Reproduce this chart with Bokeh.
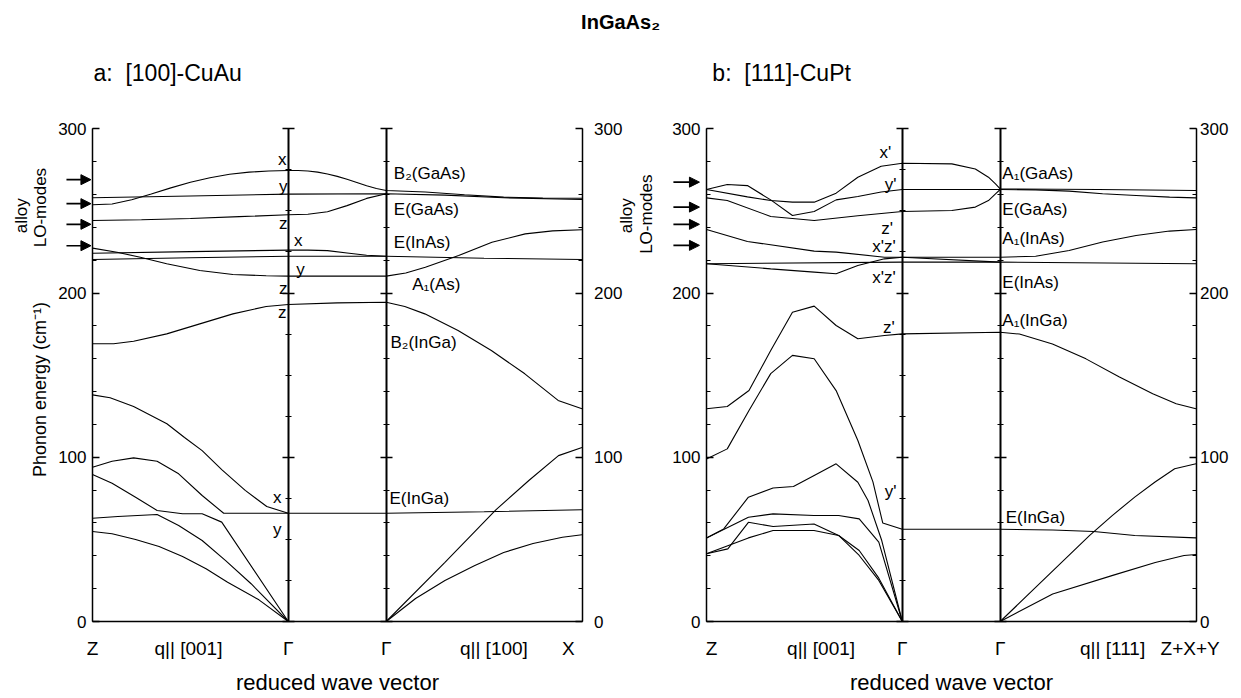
import math
from bokeh.plotting import figure
from bokeh.models import Range1d, LinearAxis, FixedTicker, Label, Arrow, NormalHead
from bokeh.embed import file_html
from bokeh.resources import INLINE

# ---------------- data: panel a  [100]-CuAu ----------------
# q: 0 = Z, 1 = Gamma (q||[001]), 1..1.5 = direction change at Gamma, 1.5 = Gamma, 2.5 = X
A_TOP_Q = [0, 0.1, 0.2, 0.3, 0.4, 0.5, 0.6, 0.7, 0.8, 0.9, 1.0, 1.05, 1.1, 1.15, 1.2, 1.25, 1.3, 1.35, 1.4, 1.45, 1.5, 1.7, 1.9, 2.1, 2.3, 2.5]
A_TOP_E = [253.7, 254.2, 256.8, 260.3, 264.0, 267.4, 270.2, 272.3, 273.6, 274.3, 274.6, 274.6, 274.3, 273.6, 272.5, 271.0, 269.2, 267.3, 265.3, 263.6, 262.4, 261.5, 259.8, 258.4, 257.8, 257.7]
A_EGAAS_Q = [0, 0.5, 1.0, 1.5, 1.8, 2.1, 2.5]
A_EGAAS_E = [258.0, 259.1, 260.2, 260.4, 259.6, 258.0, 256.9]
A_EGAASZ_Q = [0, 0.25, 0.5, 0.75, 1.0, 1.1, 1.2, 1.3, 1.4, 1.5]
A_EGAASZ_E = [244.1, 244.6, 245.4, 246.5, 247.6, 247.9, 249.5, 253.2, 257.6, 260.4]
A_A1AS_Q = [0, 0.125, 0.244, 0.379, 0.548, 0.717, 0.887, 1.0, 1.5, 1.6, 1.7, 1.87, 2.04, 2.21, 2.35, 2.5]
A_A1AS_E = [227.3, 224.8, 221.8, 217.8, 213.7, 211.3, 210.5, 210.3, 210.3, 212.2, 215.7, 222.8, 230.9, 236.0, 237.8, 238.5]
A_EINASX_Q = [0, 0.5, 1.0, 1.1, 1.2, 1.3, 1.4, 1.5]
A_EINASX_E = [224.2, 225.2, 226.1, 226.1, 225.8, 224.4, 223.0, 222.4]
A_EINAS_Q = [0, 0.5, 1.0, 1.5, 2.0, 2.5]
A_EINAS_E = [220.4, 221.5, 222.4, 222.4, 221.2, 220.4]
A_B2INGA_Q = [0, 0.108, 0.21, 0.379, 0.548, 0.717, 0.887, 1.0, 1.25, 1.5, 1.595, 1.697, 1.867, 2.037, 2.208, 2.378, 2.5]
A_B2INGA_E = [169.1, 169.1, 170.6, 175.1, 181.2, 187.3, 191.8, 193.0, 194.0, 194.4, 191.8, 187.3, 177.2, 165.0, 150.8, 134.6, 129.5]
A_OPT_Q = [0, 0.09, 0.21, 0.38, 0.47, 0.56, 0.66, 0.78, 0.89, 1.0]
A_OPT_E = [138.0, 136.2, 130.9, 120.4, 112.0, 104.0, 92.5, 79.8, 70.0, 65.9]
A_EINGA_Q = [0, 0.10, 0.21, 0.33, 0.44, 0.56, 0.67, 1.0, 1.5, 2.0, 2.5]
A_EINGA_E = [93.9, 97.6, 99.6, 97.6, 89.9, 76.7, 65.9, 65.9, 65.9, 66.8, 68.0]
A_AC1_Q = [0, 0.10, 0.22, 0.33, 0.46, 0.56, 0.66, 1.0]
A_AC1_E = [89.5, 84.2, 75.7, 67.6, 65.6, 65.6, 60.5, 0]
A_AC2_Q = [0, 0.13, 0.33, 0.44, 0.56, 0.68, 0.81, 1.0]
A_AC2_E = [62.9, 63.9, 65.1, 58.4, 49.3, 37.1, 23.0, 0]
A_AC3_Q = [0, 0.10, 0.22, 0.34, 0.46, 0.58, 0.69, 0.85, 1.0]
A_AC3_E = [54.8, 53.4, 49.9, 45.7, 39.6, 32.1, 23.9, 13.2, 0]
A_LA_Q = [1.5, 1.8, 2.06, 2.23, 2.38, 2.5]
A_LA_E = [0, 36, 68, 86, 101, 106]
A_TA_Q = [1.5, 1.65, 1.8, 1.95, 2.1, 2.25, 2.4, 2.5]
A_TA_E = [0, 14, 25, 34, 42, 47.5, 51.3, 52.8]
A_ARROW_E = [269.0, 254.4, 241.8, 228.8]

# ---------------- data: panel b  [111]-CuPt ----------------
B_X_Q = [0, 0.209, 0.328, 0.439, 0.55, 0.662, 0.773, 0.892, 1.0, 1.253, 1.373, 1.44, 1.476, 1.5, 2.0, 2.5]
B_X_E = [263.0, 258.5, 256.3, 255.3, 255.3, 260.8, 270.5, 277.2, 279.0, 278.6, 275.5, 270.5, 266.4, 263.4, 263.0, 262.4]
B_Y_Q = [0, 0.106, 0.209, 0.328, 0.439, 0.55, 0.662, 0.773, 0.892, 1.0, 1.5, 1.681, 1.852, 2.023, 2.194, 2.365, 2.5]
B_Y_E = [263.0, 266.1, 265.4, 256.7, 247.2, 249.6, 256.7, 258.8, 261.5, 263.0, 263.0, 262.8, 262.0, 260.4, 259.4, 258.4, 257.9]
B_Z_Q = [0, 0.106, 0.328, 0.55, 0.773, 1.0, 1.253, 1.373, 1.44, 1.476, 1.5]
B_Z_E = [257.9, 256.3, 246.6, 244.1, 247.0, 249.6, 250.2, 252.3, 256.3, 260.4, 263.0]
B_XZ1_Q = [0, 0.209, 0.55, 0.662, 0.909, 1.0, 1.5, 1.681, 1.852, 2.023, 2.194, 2.365, 2.5]
B_XZ1_E = [238.7, 231.4, 225.5, 224.9, 221.8, 221.8, 221.8, 222.4, 225.9, 231.0, 235.0, 237.7, 238.7]
B_EINAS_Q = [0, 1.0, 1.5, 2.5]
B_EINAS_E = [217.8, 218.8, 218.8, 217.8]
B_XZ2_Q = [0, 0.328, 0.55, 0.662, 0.773, 0.909, 1.0, 1.5]
B_XZ2_E = [217.8, 214.7, 212.7, 211.7, 216.7, 220.8, 221.8, 218.8]
B_A1INGA_Q = [0, 0.106, 0.217, 0.328, 0.439, 0.55, 0.662, 0.773, 0.909, 1.0, 1.5, 1.598, 1.767, 1.938, 2.109, 2.279, 2.399, 2.5]
B_A1INGA_E = [129.5, 130.9, 140.6, 165.0, 188.3, 192.0, 180.2, 172.1, 174.1, 175.1, 176.1, 175.0, 169.0, 159.9, 148.8, 138.7, 132.6, 129.5]
B_EINGA_Q = [0, 0.106, 0.217, 0.328, 0.439, 0.55, 0.662, 0.773, 0.85, 0.9, 1.0, 1.5, 1.768, 1.978, 2.187, 2.5]
B_EINGA_E = [99.0, 105.1, 128.5, 150.9, 162.0, 160.0, 140.6, 110.2, 85.0, 60.0, 56.2, 56.2, 55.7, 54.8, 52.4, 50.9]
B_AC1_Q = [0, 0.088, 0.214, 0.34, 0.444, 0.55, 0.662, 0.773, 0.825, 0.895, 1.0]
B_AC1_E = [50.9, 56.4, 75.7, 81.3, 82.2, 88.9, 96.0, 84.8, 73.7, 49.3, 0]
B_AC2_Q = [0, 0.214, 0.34, 0.549, 0.675, 0.78, 0.88, 1.0]
B_AC2_E = [50.9, 63.5, 65.5, 64.5, 64.5, 62.5, 48.3, 0]
B_AC3_Q = [0, 0.109, 0.214, 0.34, 0.549, 0.675, 0.78, 0.88, 1.0]
B_AC3_E = [41.2, 44.2, 60.4, 57.8, 59.4, 52.4, 43.2, 26.4, 0]
B_AC4_Q = [0, 0.214, 0.34, 0.549, 0.675, 0.78, 0.88, 1.0]
B_AC4_E = [41.2, 50.9, 55.4, 55.4, 52.4, 40.2, 25.0, 0]
B_LA_Q = [1.5, 1.957, 2.072, 2.187, 2.289, 2.391, 2.5]
B_LA_E = [0, 52.4, 64.5, 75.7, 84.8, 93.0, 96.0]
B_TA_Q = [1.5, 1.768, 2.083, 2.292, 2.439, 2.5]
B_TA_E = [0, 16.8, 28.4, 35.9, 40.2, 40.8]
B_ARROW_E = [267.5, 252.3, 241.8, 229.0]

# ---------------- texts ----------------
NB = "\u00a0"
TITLE = "InGaAs\u2082"
SUB_A = "a:" + NB + NB + "[100]-CuAu"
SUB_B = "b:" + NB + NB + "[111]-CuPt"
XLABELS_A = ["Z", "q||" + NB + "[001]", "\u0393", "\u0393", "q||" + NB + "[100]", "X"]
XLABELS_B = ["Z", "q||" + NB + "[001]", "\u0393", "\u0393", "q||" + NB + "[111]", "Z+X+Y"]
YTICKS = [0, 100, 200, 300]
LABELS_A_GAMMA = ["x", "y", "z", "x", "y", "z", "z", "x", "y"]
LABELS_A_MODES = ["B\u2082(GaAs)", "E(GaAs)", "E(InAs)", "A\u2081(As)", "B\u2082(InGa)", "E(InGa)"]
LABELS_B_GAMMA = ["x'", "y'", "z'", "x'z'", "x'z'", "z'", "y'"]
LABELS_B_MODES = ["A\u2081(GaAs)", "E(GaAs)", "A\u2081(InAs)", "E(InAs)", "A\u2081(InGa)", "E(InGa)"]

# ---------------- layout ----------------
W, H = 1241, 698
PX_X = 195.8           # px per q unit
PX_Y = 1.6425          # px per cm^-1
ZLEFT = 92             # canvas px of panel a left axis
ZERO_Y = 621           # canvas px (from top) of E = 0
OFF_B = (706 - 92) / PX_X
x0 = -ZLEFT / PX_X
y1 = ZERO_Y / PX_Y
FONT = "Liberation Sans"

p = figure(width=W, height=H, x_range=Range1d(x0, x0 + W / PX_X),
           y_range=Range1d(y1 - H / PX_Y, y1), output_backend="svg",
           toolbar_location=None, x_axis_location=None, y_axis_location=None,
           min_border=0, outline_line_color=None)
p.title.visible = False
p.xgrid.visible = False
p.ygrid.visible = False
p.grid.grid_line_color = None

A_BANDS = [(A_TOP_Q, A_TOP_E), (A_EGAAS_Q, A_EGAAS_E), (A_EGAASZ_Q, A_EGAASZ_E),
           (A_A1AS_Q, A_A1AS_E), (A_EINASX_Q, A_EINASX_E), (A_EINAS_Q, A_EINAS_E),
           (A_B2INGA_Q, A_B2INGA_E), (A_OPT_Q, A_OPT_E), (A_EINGA_Q, A_EINGA_E),
           (A_AC1_Q, A_AC1_E), (A_AC2_Q, A_AC2_E), (A_AC3_Q, A_AC3_E),
           (A_LA_Q, A_LA_E), (A_TA_Q, A_TA_E)]
B_BANDS = [(B_X_Q, B_X_E), (B_Y_Q, B_Y_E), (B_Z_Q, B_Z_E), (B_XZ1_Q, B_XZ1_E),
           (B_EINAS_Q, B_EINAS_E), (B_XZ2_Q, B_XZ2_E), (B_A1INGA_Q, B_A1INGA_E),
           (B_EINGA_Q, B_EINGA_E), (B_AC1_Q, B_AC1_E), (B_AC2_Q, B_AC2_E),
           (B_AC3_Q, B_AC3_E), (B_AC4_Q, B_AC4_E), (B_LA_Q, B_LA_E), (B_TA_Q, B_TA_E)]

for off, bands in ((0.0, A_BANDS), (OFF_B, B_BANDS)):
    for q, e in bands:
        p.line([off + v for v in q], e, line_color="black", line_width=1.1)


def y_axis(loc, side, minor_step, standoff, labels=True, width=1.5, both=False):
    ax = LinearAxis(fixed_location=loc, bounds=(0, 300),
                    ticker=FixedTicker(ticks=YTICKS, minor_ticks=list(range(0, 301, minor_step))),
                    axis_line_width=width, major_tick_line_width=1.3, minor_tick_line_width=1.1,
                    major_tick_in=7 if not both else 6, major_tick_out=6 if both else 0,
                    minor_tick_in=4 if not both else 3, minor_tick_out=3 if both else 0,
                    major_label_standoff=standoff, major_label_text_font=FONT,
                    major_label_text_font_size="17px", major_label_text_color="black")
    if not labels:
        ax.major_label_overrides = {t: "" for t in YTICKS}
    p.add_layout(ax, side)


def x_axis(off, ticks, labels):
    tk = [round(off + t, 4) for t in ticks]
    ax = LinearAxis(fixed_location=0, bounds=(off, off + 2.5), ticker=FixedTicker(ticks=tk),
                    major_label_overrides={t: s for t, s in zip(tk, labels)},
                    axis_line_width=1.5, major_tick_in=0, major_tick_out=0,
                    minor_tick_in=0, minor_tick_out=0, major_label_standoff=16,
                    major_label_text_font=FONT, major_label_text_font_size="19px",
                    major_label_text_color="black",
                    axis_label="reduced wave vector", axis_label_text_font=FONT,
                    axis_label_text_font_size="22px", axis_label_text_font_style="normal",
                    axis_label_text_color="black", axis_label_standoff=8)
    p.add_layout(ax, "below")


for off, rs in ((0.0, 12), (OFF_B, 4)):
    y_axis(off, "left", 20, 6)
    y_axis(off + 2.5, "right", 20, rs)
    y_axis(off + 1.0, "left", 25, 0, labels=False, width=2, both=True)
    y_axis(off + 1.5, "left", 20, 0, labels=False, width=2, both=True)

x_axis(0.0, [0.0, 0.49, 1.0, 1.5, 2.05, 2.43], XLABELS_A)
x_axis(OFF_B, [0.026, 0.585, 1.0, 1.5, 2.074, 2.47], XLABELS_B)

# alloy LO-mode arrows
for off, es, xs, xe in ((0.0, A_ARROW_E, -0.133, -0.008), (OFF_B, B_ARROW_E, -0.169, -0.036)):
    for e in es:
        p.add_layout(Arrow(x_start=off + xs, y_start=e, x_end=off + xe, y_end=e,
                           line_width=1.6, line_color="black",
                           end=NormalHead(size=10, fill_color="black", line_color="black", line_width=1)))


def lab(x, y, text, size="17px", align="center", angle=0.0, style="normal"):
    p.add_layout(Label(x=x, y=y, text=text, text_font=FONT, text_font_size=size,
                       text_align=align, text_baseline="middle", angle=angle,
                       text_font_style=style, text_color="black"))


# titles
lab(2.697, 365.0, TITLE, size="20px", style="bold")
lab(0.005, 334.0, SUB_A, size="23px", align="left")
lab(OFF_B + 0.03, 334.0, SUB_B, size="23px", align="left")

# y labels
lab(-0.2656, 141.2, "Phonon energy (cm\u207b\u00b9)", size="18px", angle=math.pi / 2)
for off, xa_, xl_, ea, el in ((0.0, -0.3626, -0.2656, 247.0, 252.0), (OFF_B, -0.4086, -0.3064, 247.0, 248.0)):
    lab(off + xa_, ea, "alloy", size="17px", angle=math.pi / 2)
    lab(off + xl_, el, "LO-modes", size="17px", angle=math.pi / 2)

# mode labels panel a
POS_A_GAMMA = [(0.969, 281.1), (0.974, 264.8), (0.974, 242.1), (1.051, 232.0), (1.062, 214.1),
               (0.974, 202.6), (0.969, 188.3), (0.943, 75.7), (0.943, 55.8)]
for t, (x, y) in zip(LABELS_A_GAMMA, POS_A_GAMMA):
    lab(x, y, t)
POS_A_MODES = [(1.539, 272.6), (1.539, 250.7), (1.539, 230.9), (1.633, 205.2), (1.522, 170.0), (1.517, 75.0)]
for t, (x, y) in zip(LABELS_A_MODES, POS_A_MODES):
    lab(x, y, t, align="left")

# mode labels panel b
POS_B_GAMMA = [(0.914, 285.7), (0.940, 266.1), (0.923, 239.1), (0.906, 228.3), (0.906, 209.6),
               (0.931, 179.2), (0.940, 79.1)]
for t, (x, y) in zip(LABELS_B_GAMMA, POS_B_GAMMA):
    lab(OFF_B + x, y, t)
POS_B_MODES = [(1.511, 272.6), (1.511, 250.7), (1.511, 233.0), (1.511, 206.6), (1.511, 183.3), (1.528, 63.5)]
for t, (x, y) in zip(LABELS_B_MODES, POS_B_MODES):
    lab(OFF_B + x, y, t, align="left")

open("out.html", "w").write(file_html(p, INLINE))
